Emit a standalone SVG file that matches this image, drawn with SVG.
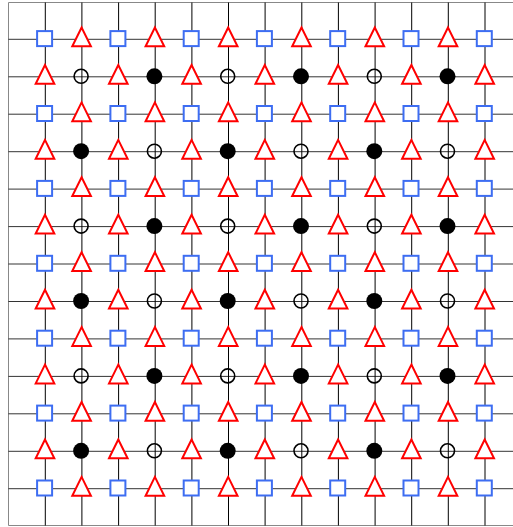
<svg xmlns="http://www.w3.org/2000/svg" xmlns:xlink="http://www.w3.org/1999/xlink" width="513" height="527" viewBox="0 0 513 527">
<style>
.g{stroke:#000;stroke-width:1;fill:none}
.f{stroke:#888;stroke-width:1;fill:none}
.sq{fill:#fff;stroke:#3d6df2;stroke-width:2}
.tr{fill:#fff;stroke:#f00;stroke-width:2;stroke-linejoin:miter}
.co{fill:none;stroke:#000;stroke-width:1.6}
.cf{fill:#000;stroke:none}
</style>
<defs>
<rect id="sq" class="sq" x="-8.2" y="-8.2" width="15" height="15"/>
<polygon id="tr" class="tr" points="-0.3,-11.8 -9.6,7 9,7"/>
<circle id="co" class="co" cx="-0.8" cy="-0.5" r="7"/>
<circle id="cf" class="cf" cx="-0.8" cy="-0.5" r="8"/>
</defs>
<rect width="513" height="527" fill="#fff"/>
<g id="connectors">
<path class="f" d="M8.5,2.5H513M8.5,2.5V525.5M8.5,525.5H513"/>
<path class="g" d="M45.3,2.5V525.5M81.9,2.5V525.5M118.6,2.5V525.5M155.2,2.5V525.5M191.9,2.5V525.5M228.5,2.5V525.5M265.1,2.5V525.5M301.8,2.5V525.5M338.4,2.5V525.5M375.1,2.5V525.5M411.7,2.5V525.5M448.3,2.5V525.5M485,2.5V525.5"/>
<path class="g" stroke-opacity="0.8" d="M8.5,39.3H513M8.5,76.8H513M8.5,114.2H513M8.5,151.7H513M8.5,189.1H513M8.5,226.6H513M8.5,264H513M8.5,301.5H513M8.5,338.9H513M8.5,376.4H513M8.5,413.8H513M8.5,451.3H513M8.5,488.7H513"/>
</g>
<g id="r0">
<g id="n0_0"><use href="#sq" x="45.3" y="39.3"/></g><g id="n0_1"><use href="#tr" x="81.9" y="39.3"/></g><g id="n0_2"><use href="#sq" x="118.6" y="39.3"/></g><g id="n0_3"><use href="#tr" x="155.2" y="39.3"/></g><g id="n0_4"><use href="#sq" x="191.9" y="39.3"/></g><g id="n0_5"><use href="#tr" x="228.5" y="39.3"/></g><g id="n0_6"><use href="#sq" x="265.1" y="39.3"/></g><g id="n0_7"><use href="#tr" x="301.8" y="39.3"/></g><g id="n0_8"><use href="#sq" x="338.4" y="39.3"/></g><g id="n0_9"><use href="#tr" x="375.1" y="39.3"/></g><g id="n0_10"><use href="#sq" x="411.7" y="39.3"/></g><g id="n0_11"><use href="#tr" x="448.3" y="39.3"/></g><g id="n0_12"><use href="#sq" x="485" y="39.3"/></g>
</g>
<g id="r1">
<g id="n1_0"><use href="#tr" x="45.3" y="76.8"/></g><g id="n1_1"><use href="#co" x="81.9" y="76.8"/></g><g id="n1_2"><use href="#tr" x="118.6" y="76.8"/></g><g id="n1_3"><use href="#cf" x="155.2" y="76.8"/></g><g id="n1_4"><use href="#tr" x="191.9" y="76.8"/></g><g id="n1_5"><use href="#co" x="228.5" y="76.8"/></g><g id="n1_6"><use href="#tr" x="265.1" y="76.8"/></g><g id="n1_7"><use href="#cf" x="301.8" y="76.8"/></g><g id="n1_8"><use href="#tr" x="338.4" y="76.8"/></g><g id="n1_9"><use href="#co" x="375.1" y="76.8"/></g><g id="n1_10"><use href="#tr" x="411.7" y="76.8"/></g><g id="n1_11"><use href="#cf" x="448.3" y="76.8"/></g><g id="n1_12"><use href="#tr" x="485" y="76.8"/></g>
</g>
<g id="r2">
<g id="n2_0"><use href="#sq" x="45.3" y="114.2"/></g><g id="n2_1"><use href="#tr" x="81.9" y="114.2"/></g><g id="n2_2"><use href="#sq" x="118.6" y="114.2"/></g><g id="n2_3"><use href="#tr" x="155.2" y="114.2"/></g><g id="n2_4"><use href="#sq" x="191.9" y="114.2"/></g><g id="n2_5"><use href="#tr" x="228.5" y="114.2"/></g><g id="n2_6"><use href="#sq" x="265.1" y="114.2"/></g><g id="n2_7"><use href="#tr" x="301.8" y="114.2"/></g><g id="n2_8"><use href="#sq" x="338.4" y="114.2"/></g><g id="n2_9"><use href="#tr" x="375.1" y="114.2"/></g><g id="n2_10"><use href="#sq" x="411.7" y="114.2"/></g><g id="n2_11"><use href="#tr" x="448.3" y="114.2"/></g><g id="n2_12"><use href="#sq" x="485" y="114.2"/></g>
</g>
<g id="r3">
<g id="n3_0"><use href="#tr" x="45.3" y="151.7"/></g><g id="n3_1"><use href="#cf" x="81.9" y="151.7"/></g><g id="n3_2"><use href="#tr" x="118.6" y="151.7"/></g><g id="n3_3"><use href="#co" x="155.2" y="151.7"/></g><g id="n3_4"><use href="#tr" x="191.9" y="151.7"/></g><g id="n3_5"><use href="#cf" x="228.5" y="151.7"/></g><g id="n3_6"><use href="#tr" x="265.1" y="151.7"/></g><g id="n3_7"><use href="#co" x="301.8" y="151.7"/></g><g id="n3_8"><use href="#tr" x="338.4" y="151.7"/></g><g id="n3_9"><use href="#cf" x="375.1" y="151.7"/></g><g id="n3_10"><use href="#tr" x="411.7" y="151.7"/></g><g id="n3_11"><use href="#co" x="448.3" y="151.7"/></g><g id="n3_12"><use href="#tr" x="485" y="151.7"/></g>
</g>
<g id="r4">
<g id="n4_0"><use href="#sq" x="45.3" y="189.1"/></g><g id="n4_1"><use href="#tr" x="81.9" y="189.1"/></g><g id="n4_2"><use href="#sq" x="118.6" y="189.1"/></g><g id="n4_3"><use href="#tr" x="155.2" y="189.1"/></g><g id="n4_4"><use href="#sq" x="191.9" y="189.1"/></g><g id="n4_5"><use href="#tr" x="228.5" y="189.1"/></g><g id="n4_6"><use href="#sq" x="265.1" y="189.1"/></g><g id="n4_7"><use href="#tr" x="301.8" y="189.1"/></g><g id="n4_8"><use href="#sq" x="338.4" y="189.1"/></g><g id="n4_9"><use href="#tr" x="375.1" y="189.1"/></g><g id="n4_10"><use href="#sq" x="411.7" y="189.1"/></g><g id="n4_11"><use href="#tr" x="448.3" y="189.1"/></g><g id="n4_12"><use href="#sq" x="485" y="189.1"/></g>
</g>
<g id="r5">
<g id="n5_0"><use href="#tr" x="45.3" y="226.6"/></g><g id="n5_1"><use href="#co" x="81.9" y="226.6"/></g><g id="n5_2"><use href="#tr" x="118.6" y="226.6"/></g><g id="n5_3"><use href="#cf" x="155.2" y="226.6"/></g><g id="n5_4"><use href="#tr" x="191.9" y="226.6"/></g><g id="n5_5"><use href="#co" x="228.5" y="226.6"/></g><g id="n5_6"><use href="#tr" x="265.1" y="226.6"/></g><g id="n5_7"><use href="#cf" x="301.8" y="226.6"/></g><g id="n5_8"><use href="#tr" x="338.4" y="226.6"/></g><g id="n5_9"><use href="#co" x="375.1" y="226.6"/></g><g id="n5_10"><use href="#tr" x="411.7" y="226.6"/></g><g id="n5_11"><use href="#cf" x="448.3" y="226.6"/></g><g id="n5_12"><use href="#tr" x="485" y="226.6"/></g>
</g>
<g id="r6">
<g id="n6_0"><use href="#sq" x="45.3" y="264"/></g><g id="n6_1"><use href="#tr" x="81.9" y="264"/></g><g id="n6_2"><use href="#sq" x="118.6" y="264"/></g><g id="n6_3"><use href="#tr" x="155.2" y="264"/></g><g id="n6_4"><use href="#sq" x="191.9" y="264"/></g><g id="n6_5"><use href="#tr" x="228.5" y="264"/></g><g id="n6_6"><use href="#sq" x="265.1" y="264"/></g><g id="n6_7"><use href="#tr" x="301.8" y="264"/></g><g id="n6_8"><use href="#sq" x="338.4" y="264"/></g><g id="n6_9"><use href="#tr" x="375.1" y="264"/></g><g id="n6_10"><use href="#sq" x="411.7" y="264"/></g><g id="n6_11"><use href="#tr" x="448.3" y="264"/></g><g id="n6_12"><use href="#sq" x="485" y="264"/></g>
</g>
<g id="r7">
<g id="n7_0"><use href="#tr" x="45.3" y="301.5"/></g><g id="n7_1"><use href="#cf" x="81.9" y="301.5"/></g><g id="n7_2"><use href="#tr" x="118.6" y="301.5"/></g><g id="n7_3"><use href="#co" x="155.2" y="301.5"/></g><g id="n7_4"><use href="#tr" x="191.9" y="301.5"/></g><g id="n7_5"><use href="#cf" x="228.5" y="301.5"/></g><g id="n7_6"><use href="#tr" x="265.1" y="301.5"/></g><g id="n7_7"><use href="#co" x="301.8" y="301.5"/></g><g id="n7_8"><use href="#tr" x="338.4" y="301.5"/></g><g id="n7_9"><use href="#cf" x="375.1" y="301.5"/></g><g id="n7_10"><use href="#tr" x="411.7" y="301.5"/></g><g id="n7_11"><use href="#co" x="448.3" y="301.5"/></g><g id="n7_12"><use href="#tr" x="485" y="301.5"/></g>
</g>
<g id="r8">
<g id="n8_0"><use href="#sq" x="45.3" y="338.9"/></g><g id="n8_1"><use href="#tr" x="81.9" y="338.9"/></g><g id="n8_2"><use href="#sq" x="118.6" y="338.9"/></g><g id="n8_3"><use href="#tr" x="155.2" y="338.9"/></g><g id="n8_4"><use href="#sq" x="191.9" y="338.9"/></g><g id="n8_5"><use href="#tr" x="228.5" y="338.9"/></g><g id="n8_6"><use href="#sq" x="265.1" y="338.9"/></g><g id="n8_7"><use href="#tr" x="301.8" y="338.9"/></g><g id="n8_8"><use href="#sq" x="338.4" y="338.9"/></g><g id="n8_9"><use href="#tr" x="375.1" y="338.9"/></g><g id="n8_10"><use href="#sq" x="411.7" y="338.9"/></g><g id="n8_11"><use href="#tr" x="448.3" y="338.9"/></g><g id="n8_12"><use href="#sq" x="485" y="338.9"/></g>
</g>
<g id="r9">
<g id="n9_0"><use href="#tr" x="45.3" y="376.4"/></g><g id="n9_1"><use href="#co" x="81.9" y="376.4"/></g><g id="n9_2"><use href="#tr" x="118.6" y="376.4"/></g><g id="n9_3"><use href="#cf" x="155.2" y="376.4"/></g><g id="n9_4"><use href="#tr" x="191.9" y="376.4"/></g><g id="n9_5"><use href="#co" x="228.5" y="376.4"/></g><g id="n9_6"><use href="#tr" x="265.1" y="376.4"/></g><g id="n9_7"><use href="#cf" x="301.8" y="376.4"/></g><g id="n9_8"><use href="#tr" x="338.4" y="376.4"/></g><g id="n9_9"><use href="#co" x="375.1" y="376.4"/></g><g id="n9_10"><use href="#tr" x="411.7" y="376.4"/></g><g id="n9_11"><use href="#cf" x="448.3" y="376.4"/></g><g id="n9_12"><use href="#tr" x="485" y="376.4"/></g>
</g>
<g id="r10">
<g id="n10_0"><use href="#sq" x="45.3" y="413.8"/></g><g id="n10_1"><use href="#tr" x="81.9" y="413.8"/></g><g id="n10_2"><use href="#sq" x="118.6" y="413.8"/></g><g id="n10_3"><use href="#tr" x="155.2" y="413.8"/></g><g id="n10_4"><use href="#sq" x="191.9" y="413.8"/></g><g id="n10_5"><use href="#tr" x="228.5" y="413.8"/></g><g id="n10_6"><use href="#sq" x="265.1" y="413.8"/></g><g id="n10_7"><use href="#tr" x="301.8" y="413.8"/></g><g id="n10_8"><use href="#sq" x="338.4" y="413.8"/></g><g id="n10_9"><use href="#tr" x="375.1" y="413.8"/></g><g id="n10_10"><use href="#sq" x="411.7" y="413.8"/></g><g id="n10_11"><use href="#tr" x="448.3" y="413.8"/></g><g id="n10_12"><use href="#sq" x="485" y="413.8"/></g>
</g>
<g id="r11">
<g id="n11_0"><use href="#tr" x="45.3" y="451.3"/></g><g id="n11_1"><use href="#cf" x="81.9" y="451.3"/></g><g id="n11_2"><use href="#tr" x="118.6" y="451.3"/></g><g id="n11_3"><use href="#co" x="155.2" y="451.3"/></g><g id="n11_4"><use href="#tr" x="191.9" y="451.3"/></g><g id="n11_5"><use href="#cf" x="228.5" y="451.3"/></g><g id="n11_6"><use href="#tr" x="265.1" y="451.3"/></g><g id="n11_7"><use href="#co" x="301.8" y="451.3"/></g><g id="n11_8"><use href="#tr" x="338.4" y="451.3"/></g><g id="n11_9"><use href="#cf" x="375.1" y="451.3"/></g><g id="n11_10"><use href="#tr" x="411.7" y="451.3"/></g><g id="n11_11"><use href="#co" x="448.3" y="451.3"/></g><g id="n11_12"><use href="#tr" x="485" y="451.3"/></g>
</g>
<g id="r12">
<g id="n12_0"><use href="#sq" x="45.3" y="488.7"/></g><g id="n12_1"><use href="#tr" x="81.9" y="488.7"/></g><g id="n12_2"><use href="#sq" x="118.6" y="488.7"/></g><g id="n12_3"><use href="#tr" x="155.2" y="488.7"/></g><g id="n12_4"><use href="#sq" x="191.9" y="488.7"/></g><g id="n12_5"><use href="#tr" x="228.5" y="488.7"/></g><g id="n12_6"><use href="#sq" x="265.1" y="488.7"/></g><g id="n12_7"><use href="#tr" x="301.8" y="488.7"/></g><g id="n12_8"><use href="#sq" x="338.4" y="488.7"/></g><g id="n12_9"><use href="#tr" x="375.1" y="488.7"/></g><g id="n12_10"><use href="#sq" x="411.7" y="488.7"/></g><g id="n12_11"><use href="#tr" x="448.3" y="488.7"/></g><g id="n12_12"><use href="#sq" x="485" y="488.7"/></g>
</g>
</svg>
